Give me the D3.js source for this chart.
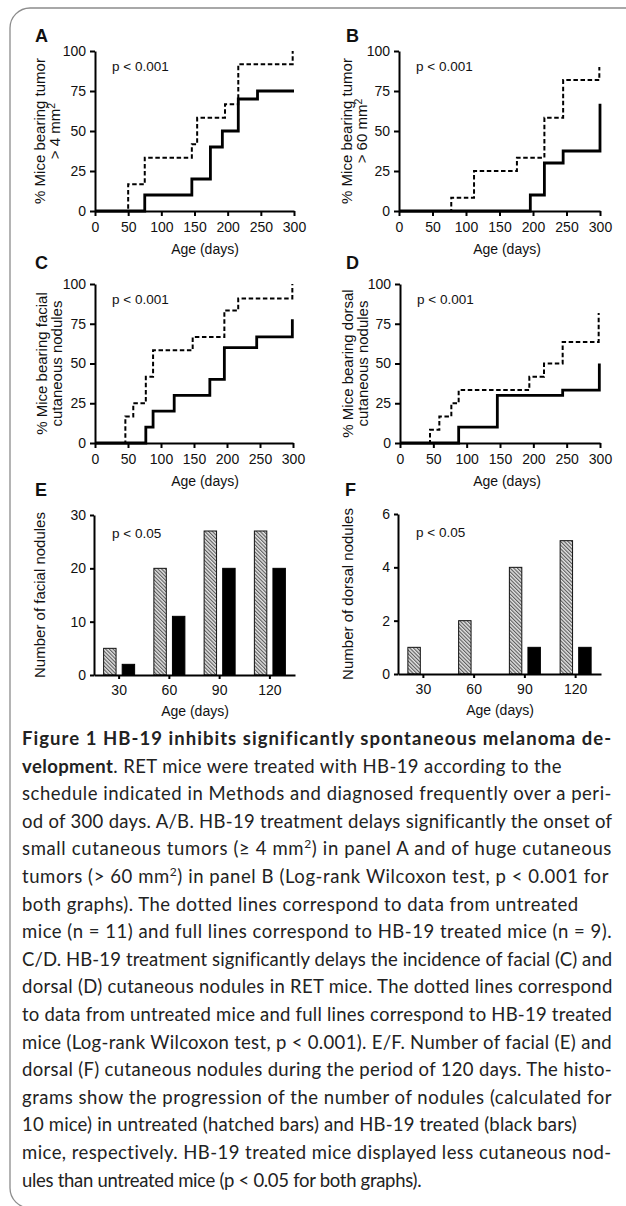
<!DOCTYPE html>
<html>
<head>
<meta charset="utf-8">
<script src="https://cdn.jsdelivr.net/npm/d3@7"></script>
<style>
  body { margin: 0; background: #fff; }
  svg { display: block; }
  .axis path, .axis line { stroke: #000; stroke-width: 2; }
  .axis text { font-family: "Liberation Sans", Arial, sans-serif; font-size: 14px; fill: #111; }
  .lbl { font-family: "Liberation Sans", Arial, sans-serif; fill: #111; }
  .cap { font-family: Lato, "Open Sans", sans-serif; font-size: 18.5px; fill: #222; }
</style>
</head>
<body>
<svg id="fig" width="626" height="1206"></svg>
<script>
// ticks
const ageTicks = [0, 50, 100, 150, 200, 250, 300];
const pctTicks = [0, 25, 50, 75, 100];

// A: tumor > 4 mm2
const daysAUntreated = [0, 50, 75, 146, 154, 196, 216, 298];
const pctAUntreated  = [0, 16.7, 33.3, 41.7, 58.3, 66.7, 91.7, 100];
const daysATreated   = [0, 75, 146, 174, 192, 216, 245, 300];
const pctATreated    = [0, 10, 20, 40, 50, 70, 75, 75];

// B: tumor > 60 mm2
const daysBUntreated = [0, 78, 112, 176, 217, 245, 299];
const pctBUntreated  = [0, 8.3, 25, 33.3, 58.3, 81.8, 90];
const daysBTreated   = [0, 196, 217, 245, 300];
const pctBTreated    = [0, 10, 30, 37.5, 67];

// C: facial nodules
const daysCUntreated = [0, 46, 58, 77, 88, 148, 196, 217, 299];
const pctCUntreated  = [0, 16.7, 25, 41.7, 58.3, 66.7, 83.3, 90.9, 100];
const daysCTreated   = [0, 77, 88, 120, 174, 196, 245, 299];
const pctCTreated    = [0, 10, 20, 30, 40, 60, 66.7, 77.8];

// D: dorsal nodules
const daysDUntreated = [0, 45, 59, 77, 88, 194, 216, 244, 298];
const pctDUntreated  = [0, 8.3, 16.7, 25, 33.3, 41.7, 50, 63.6, 81.8];
const daysDTreated   = [0, 88, 146, 244, 299];
const pctDTreated    = [0, 10, 30, 33.3, 50];

// E / F: nodule counts
const barAges = ["30", "60", "90", "120"];
const facialUntreated = [5, 20, 27, 27];
const facialTreated   = [2, 11, 20, 20];
const dorsalUntreated = [1, 2, 4, 5];
const dorsalTreated   = [0, 0, 1, 1];
const facialTicks = [0, 10, 20, 30];
const dorsalTicks = [0, 2, 4, 6];

// caption, one entry per printed line
const captionLines = [
  [["Figure 1 HB-19 inhibits significantly spontaneous melanoma de-", "b"]],
  [["velopment", "b"], [". RET mice were treated with HB-19 according to the", ""]],
  [["schedule indicated in Methods and diagnosed frequently over a peri-", ""]],
  [["od of 300 days. A/B. HB-19 treatment delays significantly the onset of", ""]],
  [["small cutaneous tumors (\u2265 4 mm", ""], ["2", "s"], [") in panel A and of huge cutaneous", ""]],
  [["tumors (> 60 mm", ""], ["2", "s"], [") in panel B (Log-rank Wilcoxon test, p < 0.001 for", ""]],
  [["both graphs). The dotted lines correspond to data from untreated", ""]],
  [["mice (n = 11) and full lines correspond to HB-19 treated mice (n = 9).", ""]],
  [["C/D. HB-19 treatment significantly delays the incidence of facial (C) and", ""]],
  [["dorsal (D) cutaneous nodules in RET mice. The dotted lines correspond", ""]],
  [["to data from untreated mice and full lines correspond to HB-19 treated", ""]],
  [["mice (Log-rank Wilcoxon test, p < 0.001). E/F. Number of facial (E) and", ""]],
  [["dorsal (F) cutaneous nodules during the period of 120 days. The histo-", ""]],
  [["grams show the progression of the number of nodules (calculated for", ""]],
  [["10 mice) in untreated (hatched bars) and HB-19 treated (black bars)", ""]],
  [["mice, respectively. HB-19 treated mice displayed less cutaneous nod-", ""]],
  [["ules than untreated mice (p < 0.05 for both graphs).", ""]]
];
const captionEnds = [612, 562, 612, 612, 612, 609, 578, 612, 612, 612, 612, 612, 612, 612, 577, 612, 408];

const svg = d3.select("#fig");

// frame
svg.append("path")
  .attr("d", "M630,8 H30 A20,20 0 0 0 10,28 V1188 A20,20 0 0 0 30,1208")
  .attr("fill", "none")
  .attr("stroke", "#8c8c8c")
  .attr("stroke-width", 1.3);

const defs = svg.append("defs");
const hatch = defs.append("pattern")
  .attr("id", "hatch")
  .attr("patternUnits", "userSpaceOnUse")
  .attr("width", 2.6).attr("height", 2.6)
  .attr("patternTransform", "rotate(-45)");
hatch.append("rect").attr("width", 2.6).attr("height", 2.6).attr("fill", "#e4e4e4");
hatch.append("line").attr("x1", 0.6).attr("y1", 0).attr("x2", 0.6).attr("y2", 2.6)
  .attr("stroke", "#4a4a4a").attr("stroke-width", 1);

// text with a "^" marking a superscript tail
function richText(sel, str) {
  const parts = str.split("^");
  sel.append("tspan").text(parts[0]);
  if (parts[1]) sel.append("tspan").attr("dy", -5).attr("font-size", "10.5px").text(parts[1]);
}

function panelLetter(letter, x, y) {
  svg.append("text").attr("class", "lbl")
    .attr("x", x).attr("y", y)
    .attr("font-size", "18px").attr("font-weight", "bold")
    .text(letter);
}

function yTitle(lines, xs, cy) {
  lines.forEach((ln, i) => {
    const t = svg.append("text").attr("class", "lbl")
      .attr("font-size", "15px")
      .attr("text-anchor", "middle")
      .attr("transform", `translate(${xs[i]},${cy}) rotate(-90)`);
    richText(t, ln);
  });
}

function stepPanel(o) {
  const x = d3.scaleLinear().domain([0, 300]).range([o.x0, o.x1]);
  const y = d3.scaleLinear().domain([0, 100]).range([o.y0, o.y1]);
  const g = svg.append("g");

  g.append("g").attr("class", "axis")
    .attr("transform", `translate(0,${o.y0})`)
    .call(d3.axisBottom(x).tickValues(ageTicks).tickSize(5).tickSizeOuter(0).tickPadding(6));
  g.append("g").attr("class", "axis")
    .attr("transform", `translate(${o.x0},0)`)
    .call(d3.axisLeft(y).tickValues(pctTicks).tickSize(5).tickSizeOuter(0).tickPadding(4));

  const line = d3.line()
    .x(d => x(d[0])).y(d => y(d[1]))
    .curve(d3.curveStepAfter);

  g.append("path")
    .attr("d", line(d3.zip(o.treated[0], o.treated[1])))
    .attr("fill", "none").attr("stroke", "#000").attr("stroke-width", 2.8);
  g.append("path")
    .attr("d", line(d3.zip(o.untreated[0], o.untreated[1])))
    .attr("fill", "none").attr("stroke", "#000").attr("stroke-width", 2)
    .attr("stroke-dasharray", "4.5,2.6");

  g.append("text").attr("class", "lbl")
    .attr("x", o.x0 + 17).attr("y", o.y1 + 20)
    .attr("font-size", "13.5px").text("p < 0.001");

  g.append("text").attr("class", "lbl")
    .attr("x", o.ageX).attr("y", o.y0 + 43)
    .attr("text-anchor", "middle").attr("font-size", "14px")
    .text("Age (days)");

  panelLetter(o.letter, o.letterX, o.letterY);
  yTitle(o.title, o.titleX, (o.y0 + o.y1) / 2);
}

function barPanel(o) {
  const x = d3.scaleBand().domain(barAges).range([o.x0, o.x1]);
  const sub = d3.scaleBand().domain(["u", "t"]).range([-15.5, 15.5]).paddingInner(0.33);
  const y = d3.scaleLinear().domain([0, o.max]).range([o.y0, o.y1]);
  const g = svg.append("g");

  const rows = barAges.map((a, i) => ({ a, u: o.untreated[i], t: o.treated[i] }));
  const cx = a => x(a) + x.bandwidth() / 2;

  g.selectAll("rect.u").data(rows.filter(d => d.u > 0)).enter()
    .append("rect").attr("class", "u")
    .attr("x", d => cx(d.a) + sub("u"))
    .attr("width", sub.bandwidth())
    .attr("y", d => y(d.u))
    .attr("height", d => y(0) - y(d.u))
    .attr("fill", "url(#hatch)").attr("stroke", "#111").attr("stroke-width", 1);
  g.selectAll("rect.t").data(rows.filter(d => d.t > 0)).enter()
    .append("rect").attr("class", "t")
    .attr("x", d => cx(d.a) + sub("t"))
    .attr("width", sub.bandwidth())
    .attr("y", d => y(d.t))
    .attr("height", d => y(0) - y(d.t))
    .attr("fill", "#000").attr("stroke", "#000").attr("stroke-width", 1);

  g.append("g").attr("class", "axis")
    .attr("transform", `translate(0,${o.y0})`)
    .call(d3.axisBottom(x).tickSize(4).tickSizeOuter(0).tickPadding(6));
  g.append("g").attr("class", "axis")
    .attr("transform", `translate(${o.x0},0)`)
    .call(d3.axisLeft(y).tickValues(o.ticks).tickFormat(d3.format("d"))
      .tickSize(4).tickSizeOuter(0).tickPadding(4));

  g.append("text").attr("class", "lbl")
    .attr("x", o.x0 + 18).attr("y", o.y1 + 23)
    .attr("font-size", "13.5px").text("p < 0.05");

  g.append("text").attr("class", "lbl")
    .attr("x", o.ageX).attr("y", o.y0 + 41)
    .attr("text-anchor", "middle").attr("font-size", "14px")
    .text("Age (days)");

  panelLetter(o.letter, o.letterX, o.letterY);
  yTitle([o.title], [o.titleX], (o.y0 + o.y1) / 2);
}

stepPanel({
  letter: "A", letterX: 35, letterY: 42, x0: 95, x1: 294, y0: 211, y1: 51, ageX: 205,
  title: ["% Mice bearing tumor", "> 4 mm^2"], titleX: [45, 60],
  untreated: [daysAUntreated, pctAUntreated], treated: [daysATreated, pctATreated]
});
stepPanel({
  letter: "B", letterX: 346, letterY: 42, x0: 399, x1: 600, y0: 211, y1: 51, ageX: 507,
  title: ["% Mice bearing tumor", "> 60 mm^2"], titleX: [352, 367],
  untreated: [daysBUntreated, pctBUntreated], treated: [daysBTreated, pctBTreated]
});
stepPanel({
  letter: "C", letterX: 35, letterY: 269, x0: 95, x1: 293, y0: 443, y1: 284, ageX: 205,
  title: ["% Mice bearing facial", "cutaneous nodules"], titleX: [47, 62],
  untreated: [daysCUntreated, pctCUntreated], treated: [daysCTreated, pctCTreated]
});
stepPanel({
  letter: "D", letterX: 346, letterY: 269, x0: 400, x1: 600, y0: 443, y1: 284, ageX: 507,
  title: ["% Mice bearing dorsal", "cutaneous nodules"], titleX: [353, 368],
  untreated: [daysDUntreated, pctDUntreated], treated: [daysDTreated, pctDTreated]
});
barPanel({
  letter: "E", letterX: 35, letterY: 496, x0: 94, x1: 295, y0: 675, y1: 515, ageX: 195, max: 30,
  ticks: facialTicks, title: "Number of facial nodules", titleX: 45,
  untreated: facialUntreated, treated: facialTreated
});
barPanel({
  letter: "F", letterX: 345, letterY: 496, x0: 398, x1: 601, y0: 674, y1: 514, ageX: 500, max: 6,
  ticks: dorsalTicks, title: "Number of dorsal nodules", titleX: 353,
  untreated: dorsalUntreated, treated: dorsalTreated
});

// caption
const capX = 22, capY0 = 745, capStep = 27.6;
captionLines.forEach((segs, i) => {
  const t = svg.append("text").attr("class", "cap")
    .attr("x", capX).attr("y", capY0 + i * capStep);
  segs.forEach(([s, k], n) => {
    const sp = t.append("tspan").text(s);
    if (k === "b") sp.attr("font-weight", "bold");
    if (k === "s") sp.attr("dy", -7).attr("font-size", "12px");
    else if (n > 0 && segs[n - 1][1] === "s") sp.attr("dy", 7);
  });
  const target = captionEnds[i] - capX;
  const chars = segs.reduce((a, s) => a + s[0].length, 0);
  const natural = t.node().getComputedTextLength();
  // fit the printed line width, but never squeeze letters too hard
  const ls = Math.max(-0.3, (target - natural) / chars);
  t.attr("letter-spacing", ls.toFixed(3));
});
</script>
</body>
</html>
